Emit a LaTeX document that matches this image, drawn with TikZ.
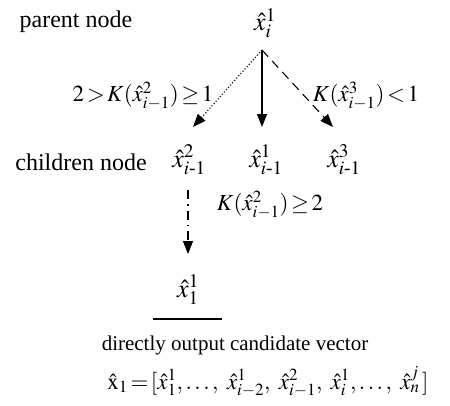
\documentclass[tikz,border=0pt]{standalone}
\usepackage{amsmath}
\usepackage{mathptmx}
\usepackage[no-math]{fontspec}
\setmainfont{Liberation Serif}
\usetikzlibrary{arrows.meta}
\tikzset{
  txt/.style={inner sep=0pt, font=\fontsize{24}{28}\selectfont},
  txs/.style={inner sep=0pt, font=\fontsize{21}{25}\selectfont},
  mth/.style={inner sep=0pt, font=\fontsize{23}{27}\selectfont},
  mnd/.style={inner sep=0pt, font=\fontsize{26}{30}\selectfont},
  arr/.style={line width=1.1pt, -{Triangle[length=13pt,width=10pt]}},
}
\begin{document}
\begin{tikzpicture}[x=1pt,y=-1pt]
\useasboundingbox (0,0) rectangle (450,405);
\node[txt] (pn) at (76,22) {parent node};
\node[mnd] (p) at (265,23) {$\hat{x}_i^1$};
\coordinate (top) at (262,50);
\coordinate (el) at (193,127);
\coordinate (em) at (262,127);
\coordinate (er) at (333,127);
\draw[arr, dotted] (top) -- (el);
\draw[arr] (top) -- (em);
\draw[arr, dash pattern=on 9pt off 6pt] (top) -- (er);
\node[mth] (l1) at (143,96) {$2\!>\!K(\hat{x}_{i-1}^2)\!\geq\! 1$};
\node[mth] (l2) at (366,96) {$K(\hat{x}_{i-1}^3)\!<\!1$};
\node[txt] (cn) at (81,162) {children node};
\node[mnd] (c2) at (189,160) {$\hat{x}_{i\text{-}1}^2$};
\node[mnd] (c1) at (266,160) {$\hat{x}_{i\text{-}1}^1$};
\node[mnd] (c3) at (344,160) {$\hat{x}_{i\text{-}1}^3$};
\node[mth] (l3) at (270,205) {$K(\hat{x}_{i-1}^2)\!\geq\! 2$};
\coordinate (ds) at (188,190);
\coordinate (de) at (188,254);
\draw[arr, dash pattern=on 9pt off 5pt on 1.5pt off 5pt] (ds) -- (de);
\node[mnd] (x11) at (188,290) {$\hat{x}_1^1$};
\coordinate (ha) at (153,319);
\coordinate (hb) at (222,319);
\draw[line width=1.1pt] (ha) -- (hb);
\node[txs] (dc) at (235,345) {directly output candidate vector};
\node[mth] (vec) at (268,382) {$\hat{\mathrm{x}}_1\!=\![\hat{x}_1^1,\ldots,\ \hat{x}_{i-2}^1,\ \hat{x}_{i-1}^2,\ \hat{x}_i^1,\ldots,\ \hat{x}_n^j\,]$};
\end{tikzpicture}
\end{document}
